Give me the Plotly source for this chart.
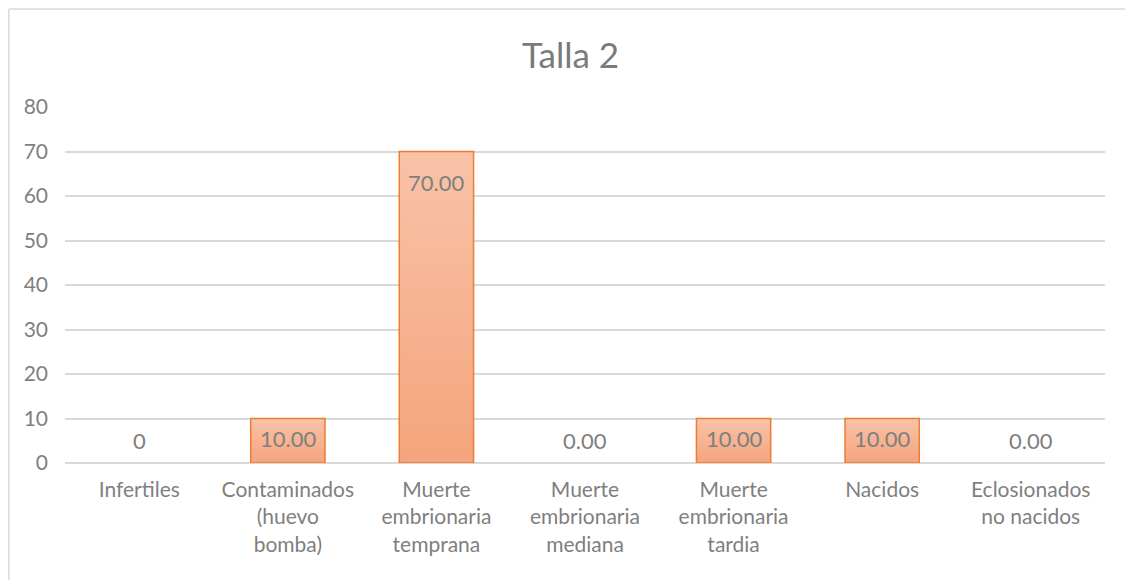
import plotly.graph_objects as go

categories = ["Infertiles", "Contaminados<br>(huevo<br>bomba)", "Muerte<br>embrionaria<br>temprana",
              "Muerte<br>embrionaria<br>mediana", "Muerte<br>embrionaria<br>tardia", "Nacidos",
              "Eclosionados<br>no nacidos"]
values = [0, 10, 70, 0, 10, 10, 0]
labels = ["0", "10.00", "70.00", "0.00", "10.00", "10.00", "0.00"]
title = "Talla 2"
y_ticks = [0, 10, 20, 30, 40, 50, 60, 70, 80]

FONT = "Lato"
GRAY = "#7F7F7F"
GRID = "#D9D9D9"
ORANGE = "#ED7D31"
half = 0.25

fig = go.Figure()
for i, v in enumerate(values):
    if v <= 0:
        continue
    xs = [i - half, i + half, i + half, i - half, i - half]
    ys = [0, 0, v, v, 0]
    fig.add_trace(go.Scatter(
        x=xs, y=ys, mode="lines", fill="toself",
        line=dict(color=ORANGE, width=1.5),
        fillgradient=dict(type="vertical",
                          colorscale=[[0, "#F5A47C"], [1, "#F8C3A8"]]),
        showlegend=False, hoverinfo="skip"))

for i, (v, t) in enumerate(zip(values, labels)):
    if v >= 20:
        ys_, sh = v, -31
    elif v > 0:
        ys_, sh = v, -20
    else:
        ys_, sh = 0, 23
    fig.add_annotation(x=i, y=ys_, text=t, showarrow=False, yshift=sh,
                       font=dict(family=FONT, size=22, color=GRAY))

# outer chart frame (top and left edges visible)
fig.add_shape(type="line", xref="paper", yref="paper", x0=-0.054, x1=1.1, y0=1.275, y1=1.275,
              line=dict(color=GRID, width=1.5))
fig.add_shape(type="line", xref="paper", yref="paper", x0=-0.054, x1=-0.054, y0=1.275, y1=-0.4,
              line=dict(color=GRID, width=1.5))

fig.update_layout(
    width=1125, height=572,
    margin=dict(l=57, r=28, t=99, b=117),
    paper_bgcolor="white", plot_bgcolor="white",
    title=dict(text=title, x=0.5, xanchor="center", y=0.917, yanchor="middle",
               font=dict(family=FONT, size=35, color="#7A7A7A")),
    font=dict(family=FONT, size=21, color=GRAY),
    showlegend=False,
)
fig.update_xaxes(range=[-0.5, len(categories) - 0.5], tickvals=list(range(len(categories))),
                 ticktext=categories, showgrid=False, zeroline=False, showline=False,
                 ticks="", ticklabelstandoff=12, tickfont=dict(family=FONT, size=21, color=GRAY))
fig.update_yaxes(range=[0, 80], tickvals=y_ticks, showgrid=True, gridcolor=GRID, gridwidth=1.5,
                 zeroline=True, zerolinecolor=GRID, zerolinewidth=1.5, ticks="",
                 ticklabelstandoff=16, tickfont=dict(family=FONT, size=21, color=GRAY))

fig.write_html("out.html")
